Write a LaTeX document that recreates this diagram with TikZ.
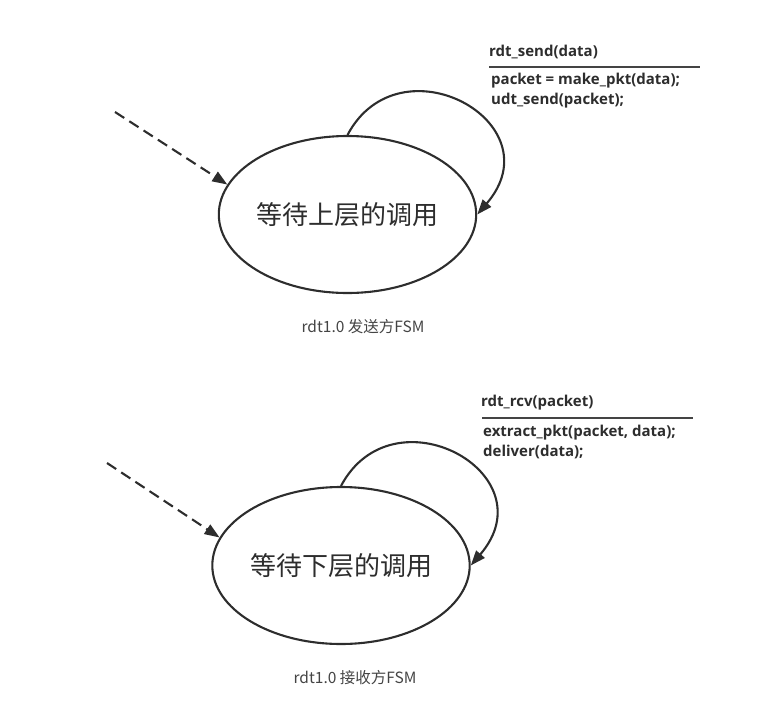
\documentclass[tikz,border=0pt]{standalone}
\usepackage{fontspec}
\setmainfont{Open Sans}
\newfontfamily\cjk{Noto Sans CJK SC}
\usetikzlibrary{shapes.geometric,arrows.meta,positioning}
\definecolor{inkdark}{RGB}{45,45,45}
\definecolor{inkgrey}{RGB}{68,68,68}
\tikzset{
    fsmstate/.style={draw=inkdark, ellipse, line width=2.1pt,
                     minimum width=255pt, minimum height=157pt, inner sep=0pt,
                     font=\cjk\fontsize{26}{30}\selectfont, text=inkdark},
    evtlabel/.style={anchor=west, inner sep=0pt, text=inkdark,
                     font=\bfseries\fontsize{15}{18}\selectfont},
    actlabel/.style={anchor=north west, align=left, inner sep=0pt, text=inkdark,
                     font=\bfseries\fontsize{15}{20}\selectfont},
    fsmcaption/.style={font=\cjk\fontsize{15.5}{18}\selectfont, text=inkgrey},
    sepline/.style={draw=inkgrey, line width=1.3pt},
}

\begin{document}
\begin{tikzpicture}[
    x=1pt, y=-1pt,
    arr/.style={-{Triangle[length=15pt,width=11pt]}, line width=2.1pt, draw=inkdark},
    initarr/.style={arr, dash pattern=on 11pt off 6pt}
]
    \useasboundingbox (0,0) rectangle (772,710);

    % sender
    \node[fsmstate] (send) at (347.5,214.5) {等待上层的调用};
    \coordinate (sendinit) at (115,112);
    \draw[initarr] (sendinit) -- (send.166);
    \draw[arr] (send.north) .. controls +(52,-98) and +(79,-92) .. (send.east);
    \node[evtlabel] (sendevt) at (489,52) {rdt\_send(data)};
    \coordinate (sendsepL) at (489,67);
    \coordinate (sendsepR) at (700,67);
    \draw[sepline] (sendsepL) -- (sendsepR);
    \node[actlabel] (sendact) at (491,73) {packet = make\_pkt(data);\\udt\_send(packet);};
    \node[fsmcaption] (sendcap) at (363,327) {rdt1.0 发送方FSM};

    % receiver
    \node[fsmstate] (recv) at (341,565.5) {等待下层的调用};
    \coordinate (recvinit) at (107,463);
    \draw[initarr] (recvinit) -- (recv.167);
    \draw[arr] (recv.north) .. controls +(52,-98) and +(79,-92) .. (recv.east);
    \node[evtlabel] (recvevt) at (481,403) {rdt\_rcv(packet)};
    \coordinate (recvsepL) at (482,418);
    \coordinate (recvsepR) at (693,418);
    \draw[sepline] (recvsepL) -- (recvsepR);
    \node[actlabel] (recvact) at (483,425) {extract\_pkt(packet, data);\\deliver(data);};
    \node[fsmcaption] (recvcap) at (355,678) {rdt1.0 接收方FSM};
\end{tikzpicture}
\end{document}
